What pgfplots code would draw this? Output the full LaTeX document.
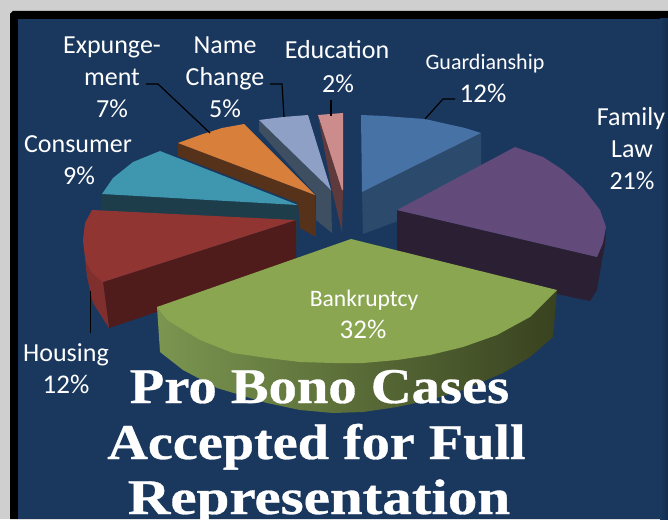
\documentclass[border=0pt]{standalone}
\usepackage{graphicx}
\usepackage{pgfplots}
\pgfplotsset{compat=1.18}
\usepackage{fontspec}
\setmainfont{Carlito}
\newfontfamily\titlefont{Liberation Serif}[FakeBold=0.6]
\definecolor{bgnavy}{HTML}{1A375E}
\definecolor{gside}{HTML}{2B4A6C}\definecolor{gtop}{HTML}{4672A6}
\definecolor{eside}{HTML}{5E3A3C}\definecolor{etop}{HTML}{CC8C8C}
\definecolor{nside}{HTML}{3F4F62}\definecolor{ntop}{HTML}{8EA0C6}
\definecolor{cside}{HTML}{1D3D4A}\definecolor{ctop}{HTML}{3F96AF}
\definecolor{xside}{HTML}{57321A}\definecolor{xtop}{HTML}{D8803B}
\definecolor{hside}{HTML}{4F1C1B}\definecolor{hrim}{HTML}{7F302E}\definecolor{htop}{HTML}{913533}
\definecolor{fside}{HTML}{2A1F33}\definecolor{ftop}{HTML}{624A7B}
\definecolor{bL}{HTML}{7B9650}\definecolor{bM}{HTML}{465226}\definecolor{bR}{HTML}{38421F}\definecolor{btop}{HTML}{8AA650}
\newcommand{\lab}[4]{\node[text=white,anchor=base,inner sep=0pt,font=\fontsize{#3}{#3}\selectfont] at (axis cs:#1,#2) {#4};}
\newcommand{\ttl}[3]{\node[text=white,anchor=base,inner sep=0pt,font=\titlefont\bfseries\fontsize{50}{50}\selectfont] at (axis cs:#1,#2) {#3};}
\begin{document}
\begin{tikzpicture}
\path[use as bounding box] (0,0) rectangle (668pt,519pt);
\begin{axis}[
  at={(0,0)},anchor=south west,
  scale only axis,width=668pt,height=519pt,
  xmin=0,xmax=668,ymin=0,ymax=519,y dir=reverse,
  axis lines=none,
  clip=true,
  every axis plot/.append style={no markers,line width=0pt},
]
% page, frame and field
\addplot[draw=none,fill=black!19] coordinates {(0,0)(668,0)(668,519)(0,519)} --cycle;
\addplot[draw=none,fill=black] coordinates {(10,14)(13,11)(668,11)(668,519)(10,519)} --cycle;
\addplot[draw=none,fill=bgnavy] coordinates {(18,19)(668,19)(668,519)(18,519)} --cycle;
\addplot[draw=none,left color=bgnavy,right color=bgnavy!80!black] coordinates {(660,19)(668,19)(668,519)(660,519)} --cycle;
% Guardianship
\addplot[draw=none,fill=gside] coordinates {(362,192)(481,133)(481,190)(363,234)} --cycle;
\addplot[draw=none,fill=gtop] coordinates {(361,115)(385,116)(397,117)(425,119)(447,124)(465,128)(481,133)(362,192)} --cycle;
% Education
\addplot[draw=none,fill=eside] coordinates {(318,116)(332,190)(342,232)(343,190)} --cycle;
\addplot[draw=none,fill=etop] coordinates {(318,115)(330,114)(343,113)(343,190)(342,190)} --cycle;
% Name change
\addplot[draw=none,fill=nside] coordinates {(259,120)(331,190)(332,233)(316,220)(316,195)(259,131)} --cycle;
\addplot[draw=none,fill=ntop] coordinates {(259,120)(283,117)(308,115)(331,190)} --cycle;
% Consumer
\addplot[draw=none,fill=cside] coordinates {(102,194)(298,205)(298,246)(102,215)} --cycle;
\addplot[draw=none,fill=ctop] coordinates {(102,194)(113,178)(133,162)(160,151)(298,205)} --cycle;
% Expungement
\addplot[draw=none,fill=xside] coordinates {(178,143)(315,195)(316,237)(300,228)(298,203)(178,156)} --cycle;
\addplot[draw=none,fill=xtop] coordinates {(178,143)(200,135)(222,128)(244,124)(315,195)} --cycle;
% Housing
\addplot[draw=none,fill=hside] coordinates {(103,282)(296,220)(296,265)(109,328)} --cycle;
\addplot[draw=none,fill=hrim] coordinates {(83,240)(87,277)(93,303)(109,328)(103,282)} --cycle;
\addplot[draw=none,fill=htop] coordinates {(92,210)(85,223)(83,240)(86,262)(92,273)(103,282)(296,220)} --cycle;
% Family law
\addplot[draw=none,fill=fside] coordinates {(397,210)(597,257)(603,243)(606,227)(605,245)(602,260)(597,290)(590,301)(397,260)} --cycle;
\addplot[draw=none,fill=ftop] coordinates {(397,210)(515,147)(543,157)(563,170)(583,188)(600,210)(606,227)(603,243)(597,257)} --cycle;
% Bankruptcy
\addplot[draw=none,left color=bL,middle color=bM,right color=bR] coordinates {(157,307)(160,352)(183,370)(217,388)(267,403)(300,410)(333,413)(363,412)(397,407)(430,400)(463,390)(503,373)(530,357)(553,337)(557,290)} --cycle;
\addplot[draw=none,fill=btop] coordinates {(351,239)(557,290)(530,317)(497,335)(463,347)(430,355)(397,360)(363,363)(333,363)(300,362)(267,358)(233,353)(200,340)(167,320)(157,307)} --cycle;
% leaders
\addplot[black,line width=1.2pt] coordinates {(146,84)(158,84)(210,133)};
\addplot[black,line width=1.2pt] coordinates {(270,84)(282,84)(284,117)};
\addplot[black,line width=1.2pt] coordinates {(331,100)(331,116)};
\addplot[black,line width=1.2pt] coordinates {(425,119)(443,99)(455,99)};
\addplot[black,line width=1.2pt] coordinates {(90.5,291)(90.5,333)};
% labels
\lab{112}{53}{26}{Expunge-}
\lab{112}{85}{26}{ment}
\lab{112}{117}{26}{7\%}
\lab{225}{53}{26}{Name}
\lab{225}{85}{26}{Change}
\lab{225}{117}{26}{5\%}
\lab{337}{59}{26}{Education}
\lab{338}{92}{26}{2\%}
\lab{485}{69}{22}{Guardianship}
\lab{483}{102}{27}{12\%}
\lab{631}{125}{26}{Family}
\lab{632}{157}{26}{Law}
\lab{632}{189}{26}{21\%}
\lab{78}{152}{26}{Consumer}
\lab{79}{184}{26}{9\%}
\lab{66}{361}{26}{Housing}
\lab{66}{393}{27}{12\%}
\lab{364}{306}{23.6}{Bankruptcy}
\lab{363}{338}{27}{32\%}
\ttl{319.5}{403}{\scalebox{1.132}[1]{Pro Bono Cases}}
\ttl{316.5}{459}{\scalebox{1.124}[1]{Accepted for Full}}
\ttl{319}{514}{\scalebox{1.18}[1]{Representation}}
\end{axis}
\end{tikzpicture}
\end{document}
